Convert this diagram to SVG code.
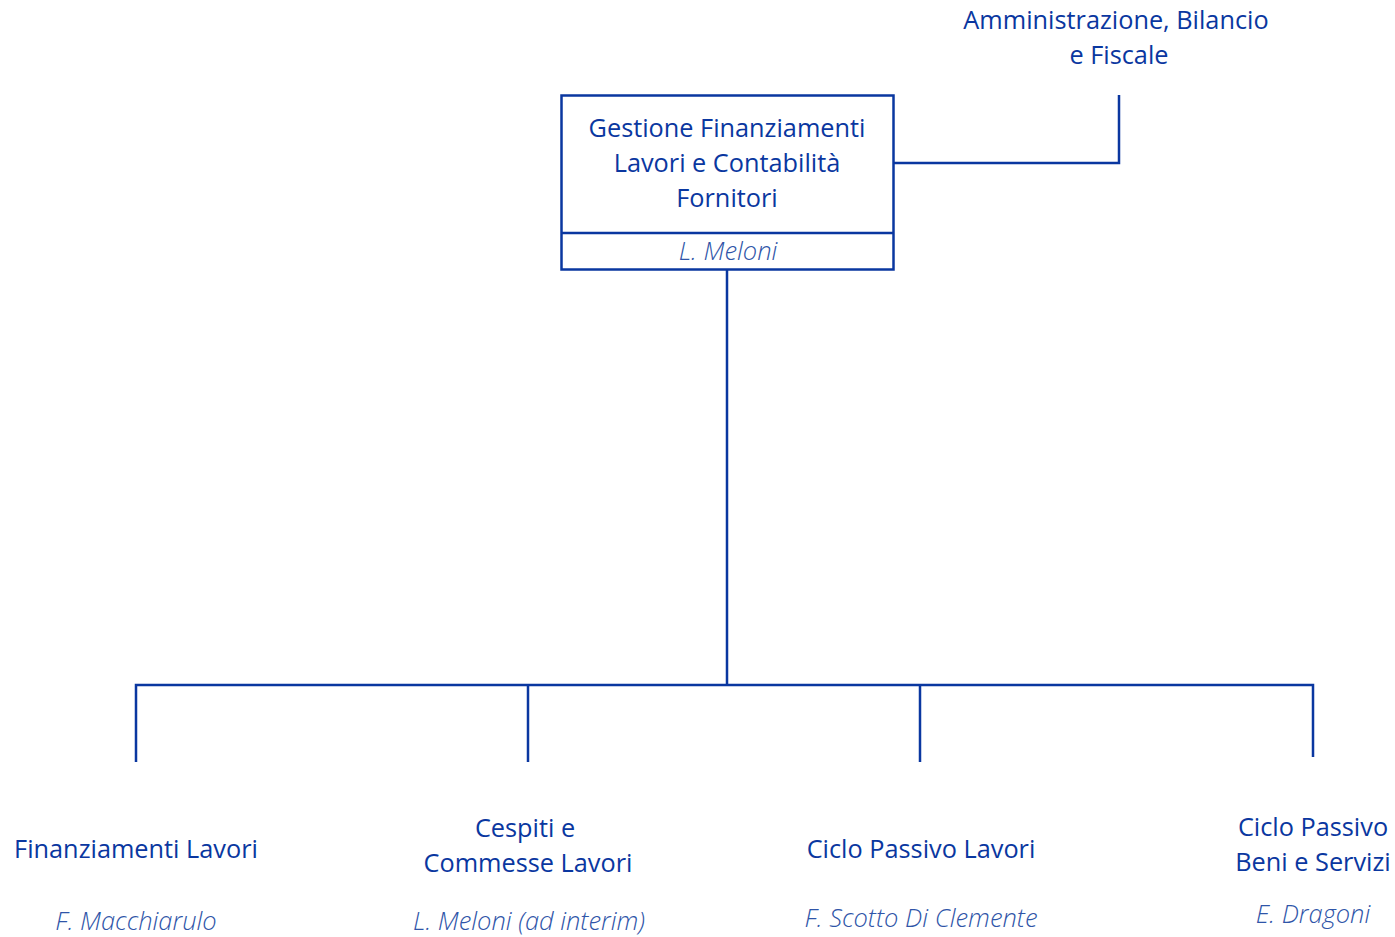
<svg xmlns="http://www.w3.org/2000/svg" width="1395" height="937" viewBox="0 0 1395 937">
<style>
.t{font-family:"Open Sans","Noto Sans","Liberation Sans",sans-serif;font-size:25.3px;fill:#0a37a0;text-anchor:middle}
.n{font-family:"Open Sans","Noto Sans","Liberation Sans",sans-serif;font-size:25.5px;font-style:italic;font-weight:300;fill:#2f55a8;text-anchor:middle}
.ln{fill:none;stroke:#0a37a0;stroke-width:2.5}
</style>
<rect width="1395" height="937" fill="#ffffff"/>
<g id="connectors">
<path class="ln" d="M894 163 H1119 V95"/>
<path class="ln" d="M727 270 V685"/>
<path class="ln" d="M136 762 V685 H1313 V757"/>
<path class="ln" d="M528 685 V762"/>
<path class="ln" d="M920 685 V762"/>
</g>
<g id="node-gestione">
<rect class="ln" x="561.5" y="95.5" width="332" height="174"/>
<line class="ln" x1="561.5" y1="233" x2="893.5" y2="233"/>
<text class="t" x="727" y="137">Gestione Finanziamenti</text>
<text class="t" x="727" y="172">Lavori e Contabilità</text>
<text class="t" x="727" y="207">Fornitori</text>
<text class="n" x="728" y="260">L. Meloni</text>
</g>
<g id="node-amministrazione">
<text class="t" x="1116" y="29">Amministrazione, Bilancio</text>
<text class="t" x="1119" y="64">e Fiscale</text>
</g>
<g id="node-finanziamenti">
<text class="t" x="136" y="858">Finanziamenti Lavori</text>
<text class="n" x="136" y="930">F. Macchiarulo</text>
</g>
<g id="node-cespiti">
<text class="t" x="525" y="837">Cespiti e</text>
<text class="t" x="528" y="872">Commesse Lavori</text>
<text class="n" x="529" y="930">L. Meloni (ad interim)</text>
</g>
<g id="node-ciclo-lavori">
<text class="t" x="921" y="858">Ciclo Passivo Lavori</text>
<text class="n" x="921" y="927">F. Scotto Di Clemente</text>
</g>
<g id="node-ciclo-beni">
<text class="t" x="1313" y="836">Ciclo Passivo</text>
<text class="t" x="1313" y="871">Beni e Servizi</text>
<text class="n" x="1313" y="923">E. Dragoni</text>
</g>
</svg>
